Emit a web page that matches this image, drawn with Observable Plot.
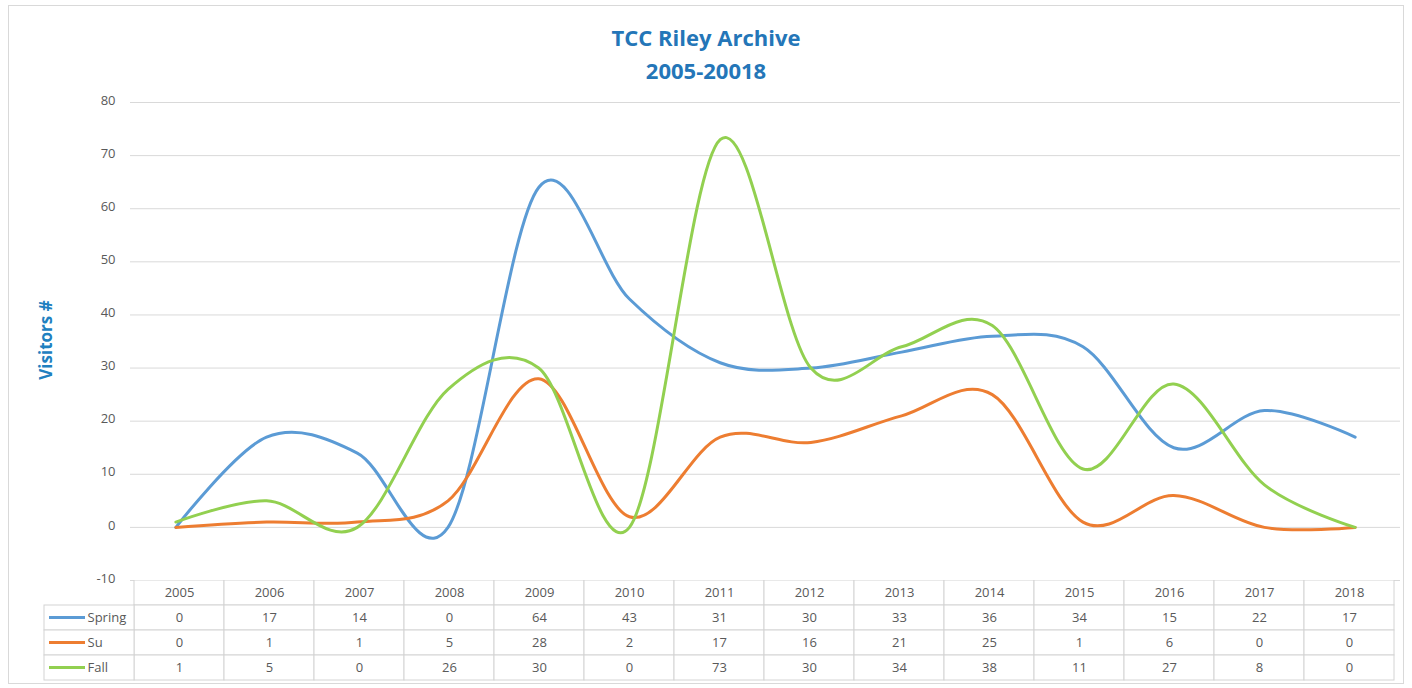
<!DOCTYPE html>
<html>
<head>
<meta charset="utf-8">
<script src="https://cdn.jsdelivr.net/npm/d3@7"></script>
<script src="https://cdn.jsdelivr.net/npm/@observablehq/plot@0.6"></script>
<style>
  html, body { margin: 0; padding: 0; background: #fff; }
  #wrap { position: relative; width: 1412px; height: 688px; overflow: hidden; font-family: "Liberation Sans Narrow", "Open Sans", sans-serif; }
  #frame { position: absolute; left: 8px; top: 5px; width: 1396px; height: 679px; border: 1px solid #d9d9d9; box-sizing: border-box; }
  .title { position: absolute; left: 0; width: 1412px; text-align: center; color: #2476b8; font-weight: bold; font-size: 22px; }
  #ylab { position: absolute; left: 45px; top: 340px; transform: translate(-50%, -50%) rotate(-90deg); color: #2080c0; font-weight: bold; font-size: 17px; white-space: nowrap; }
  #main, #table { position: absolute; left: 0; }
  #main { top: 0; }
  #table { top: 580px; }
</style>
</head>
<body>
<div id="wrap">
  <div id="frame"></div>
  <div id="main"></div>
  <div id="table"></div>
  <div class="title" style="top:22px">TCC Riley Archive</div>
  <div class="title" style="top:55px">2005-20018</div>
  <div id="ylab">Visitors #</div>
</div>
<script>
const years = [2005, 2006, 2007, 2008, 2009, 2010, 2011, 2012, 2013, 2014, 2015, 2016, 2017, 2018];
const spring = [0, 17, 14, 0, 64, 43, 31, 30, 33, 36, 34, 15, 22, 17];
const su = [0, 1, 1, 5, 28, 2, 17, 16, 21, 25, 1, 6, 0, 0];
const fall = [1, 5, 0, 26, 30, 0, 73, 30, 34, 38, 11, 27, 8, 0];
const seriesNames = ["Spring", "Su", "Fall"];
const seriesColors = ["#5B9BD5", "#ED7D31", "#92D050"];
const yTicks = [-10, 0, 10, 20, 30, 40, 50, 60, 70, 80];

const seriesValues = [spring, su, fall];
const rows = [];
seriesNames.forEach((s, k) => years.forEach((yr, i) => rows.push({series: s, year: yr, value: seriesValues[k][i]})));

const colorScale = {domain: seriesNames, range: seriesColors};

const main = Plot.plot({
  width: 1412, height: 596,
  marginTop: 102, marginBottom: 16, marginLeft: 130, marginRight: 12,
  style: {fontFamily: "'Open Sans', sans-serif", background: "transparent"},
  x: {domain: [years[0] - 0.5, years[years.length - 1] + 0.5], axis: null},
  y: {domain: [yTicks[0], yTicks[yTicks.length - 1]], axis: null},
  color: colorScale,
  marks: [
    Plot.gridY(yTicks, {stroke: "#d9d9d9", strokeOpacity: 1}),
    Plot.axisY(yTicks, {tickSize: 0, tickPadding: 15, fontSize: 13, color: "#595959", label: null, tickFormat: d => String(d), dy: -2}),
    Plot.line(rows, {x: "year", y: "value", z: "series", stroke: "series", curve: "cardinal", strokeWidth: 3})
  ]
});
document.getElementById("main").appendChild(main);

const rowNames = ["hdr", ...seriesNames];
const cells = [];
years.forEach(yr => cells.push({col: String(yr), row: "hdr", text: String(yr)}));
seriesNames.forEach((s, k) => years.forEach((yr, i) => cells.push({col: String(yr), row: s, text: String(seriesValues[k][i])})));
const labels = seriesNames.map(s => ({col: "", row: s, series: s}));

const table = Plot.plot({
  width: 1412, height: 102,
  marginTop: 0, marginBottom: 2, marginLeft: 38, marginRight: 12,
  style: {fontFamily: "'Open Sans', sans-serif", background: "transparent"},
  x: {type: "band", domain: ["", ...years.map(String)], padding: 0, axis: null},
  y: {type: "band", domain: rowNames, padding: 0, axis: null},
  color: colorScale,
  marks: [
    Plot.cell(cells, {x: "col", y: "row", fill: "white", stroke: "#d4d4d4", inset: 0}),
    Plot.cell(labels, {x: "col", y: "row", fill: "white", stroke: "#d4d4d4", inset: 0}),
    Plot.cell(labels, {x: "col", y: "row", fill: "series", insetLeft: 5, insetRight: 49, insetTop: 11, insetBottom: 11}),
    Plot.text(cells, {x: "col", y: "row", text: "text", fill: "#595959", fontSize: 13}),
    Plot.text(labels, {x: "col", y: "row", text: "series", fill: "#595959", fontSize: 13, textAnchor: "start", dx: -2})
  ]
});
document.getElementById("table").appendChild(table);
</script>
</body>
</html>
